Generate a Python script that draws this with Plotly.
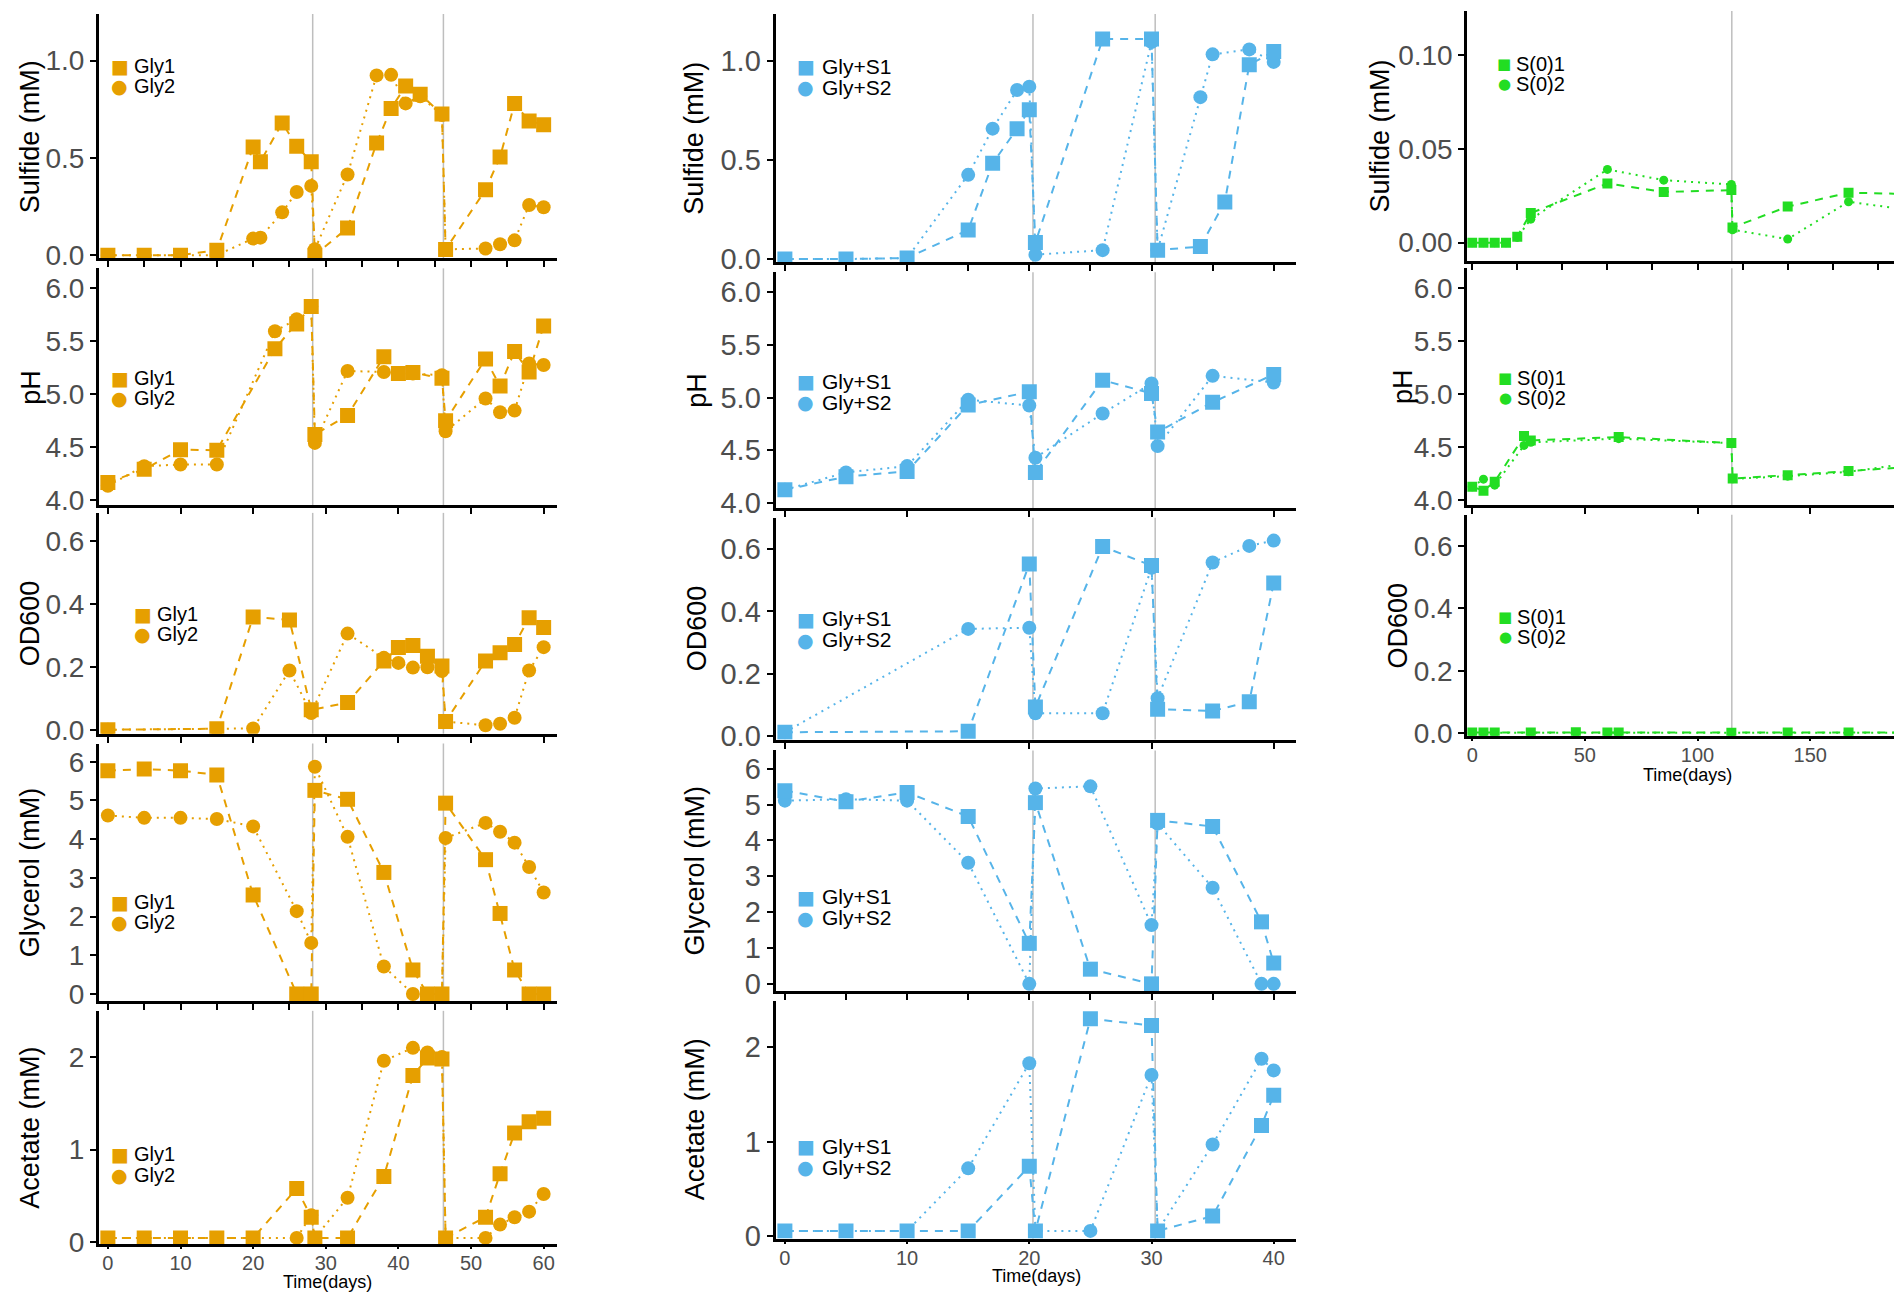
import plotly.graph_objects as go

W, H = 1902, 1296
ORANGE = "#E69F00"
BLUE = "#56B4E9"
GREEN = "#22DD22"
VLINE = "#BEBEBE"
TICKC = "#4D4D4D"
FONT = "Liberation Sans, Arial, sans-serif"

# ---------------- Column 1: glycerol only (Gly1 / Gly2) ----------------
gly_sulf_t = [0, 5, 10, 15, 20, 21, 24, 26, 28, 28.5, 33, 37, 39, 41, 43, 46, 46.5, 52, 54, 56, 58, 60]
gly1_sulf = [0, 0, 0, 0.025, 0.556, 0.48, 0.68, 0.56, 0.48, 0.0, 0.14, 0.576, 0.754, 0.87, 0.827, 0.725, 0.029, 0.336, 0.505, 0.78, 0.69, 0.67]
gly2_sulf = [0, 0, 0, 0, 0.085, 0.09, 0.22, 0.325, 0.356, 0.03, 0.415, 0.924, 0.927, 0.78, 0.817, 0.72, 0.03, 0.034, 0.056, 0.076, 0.258, 0.246]

gly_ph_t = [0, 5, 10, 15, 23, 26, 28, 28.5, 33, 38, 40, 42, 46, 46.5, 52, 54, 56, 58, 60]
gly1_ph = [4.166, 4.29, 4.476, 4.47, 5.43, 5.665, 5.83, 4.62, 4.80, 5.355, 5.195, 5.205, 5.15, 4.75, 5.333, 5.077, 5.405, 5.21, 5.646]
gly2_ph = [4.135, 4.32, 4.335, 4.335, 5.596, 5.71, 5.83, 4.54, 5.22, 5.21, 5.195, 5.195, 5.18, 4.65, 4.96, 4.83, 4.845, 5.29, 5.277]

gly_od_t = [0, 15, 20, 25, 28, 33, 38, 40, 42, 44, 46, 46.5, 52, 54, 56, 58, 60]
gly1_od = [0.002, 0.005, 0.36, 0.35, 0.065, 0.088, 0.22, 0.263, 0.269, 0.235, 0.204, 0.028, 0.22, 0.246, 0.272, 0.357, 0.326]
gly2_od = [0.002, 0.004, 0.006, 0.19, 0.055, 0.307, 0.23, 0.214, 0.199, 0.20, 0.188, 0.028, 0.016, 0.021, 0.04, 0.19, 0.264]

gly_glyc_t = [0, 5, 10, 15, 20, 26, 28, 28.5, 33, 38, 42, 44, 46, 46.5, 52, 54, 56, 58, 60]
gly1_glyc = [5.77, 5.81, 5.77, 5.66, 2.56, 0, 0, 5.26, 5.03, 3.14, 0.62, 0, 0, 4.93, 3.47, 2.08, 0.62, 0, 0]
gly2_glyc = [4.61, 4.55, 4.55, 4.52, 4.33, 2.14, 1.32, 5.87, 4.06, 0.71, 0, 0, 0, 4.03, 4.42, 4.19, 3.91, 3.28, 2.62]

gly_acet_t = [0, 5, 10, 15, 20, 26, 28, 28.5, 33, 38, 42, 44, 46, 46.5, 52, 54, 56, 58, 60]
gly1_acet = [0.046, 0.046, 0.046, 0.046, 0.046, 0.58, 0.27, 0.046, 0.046, 0.71, 1.80, 1.99, 1.98, 0.046, 0.27, 0.74, 1.18, 1.30, 1.34]
gly2_acet = [0.046, 0.046, 0.046, 0.046, 0.046, 0.046, 0.29, 0.046, 0.48, 1.96, 2.10, 2.05, 2.00, 0.046, 0.046, 0.19, 0.27, 0.33, 0.52]

gly_events = [28.2, 46.2]

# ---------------- Column 2: glycerol + sulfate (Gly+S1 / Gly+S2) ----------------
gs1_sulf_t = [0, 5, 10, 15, 17, 19, 20, 20.5, 26, 30, 30.5, 34, 36, 38, 40]
gs1_sulf = [0, 0, 0.005, 0.147, 0.483, 0.658, 0.753, 0.083, 1.11, 1.11, 0.045, 0.063, 0.288, 0.98, 1.048]
gs2_sulf_t = [0, 5, 10, 15, 17, 19, 20, 20.5, 26, 30, 30.5, 34, 35, 38, 40]
gs2_sulf = [0, 0, 0.005, 0.425, 0.658, 0.853, 0.87, 0.022, 0.045, 1.095, 0.045, 0.817, 1.033, 1.058, 0.995]

gs_ph_t = [0, 5, 10, 15, 20, 20.5, 26, 30, 30.5, 35, 40]
gs1_ph = [4.125, 4.25, 4.30, 4.93, 5.056, 4.29, 5.166, 5.04, 4.674, 4.956, 5.22]
gs2_ph = [4.125, 4.29, 4.35, 4.98, 4.925, 4.43, 4.85, 5.135, 4.54, 5.207, 5.144]

gs_od_t = [0, 15, 20, 20.5, 26, 30, 30.5, 35, 38, 40]
gs1_od = [0.013, 0.016, 0.552, 0.094, 0.608, 0.547, 0.087, 0.081, 0.111, 0.491]
gs2_od = [0.013, 0.344, 0.348, 0.074, 0.074, 0.54, 0.122, 0.557, 0.61, 0.627]

gs_glyc_t = [0, 5, 10, 15, 20, 20.5, 25, 30, 30.5, 35, 39, 40]
gs1_glyc = [5.39, 5.08, 5.34, 4.67, 1.13, 5.055, 0.41, 0, 4.56, 4.39, 1.73, 0.58]
gs2_glyc = [5.11, 5.15, 5.11, 3.38, 0, 5.45, 5.51, 1.64, 4.47, 2.68, 0, 0]

gs_acet_t = [0, 5, 10, 15, 20, 20.5, 25, 30, 30.5, 35, 39, 40]
gs1_acet = [0.053, 0.053, 0.053, 0.053, 0.737, 0.053, 2.30, 2.23, 0.053, 0.21, 1.17, 1.49]
gs2_acet = [0.053, 0.053, 0.053, 0.716, 1.83, 0.053, 0.053, 1.705, 0.053, 0.968, 1.877, 1.754]

gs_events = [20.3, 30.3]

# ---------------- Column 3: elemental sulfur (S(0)1 / S(0)2) ----------------
s0_sulf_t = [0, 5, 10, 15, 20, 26, 60, 85, 115, 115.5, 140, 167, 190]
s01_sulf = [0, 0, 0, 0, 0.0032, 0.0158, 0.0315, 0.027, 0.028, 0.0081, 0.0192, 0.0266, 0.026]
s02_sulf = [0, 0, 0, 0, 0.0028, 0.0125, 0.039, 0.0333, 0.031, 0.0069, 0.0019, 0.0218, 0.018]

s0_ph_t = [0, 5, 10, 23, 26, 65, 115, 115.6, 140, 167, 190]
s01_ph = [4.125, 4.088, 4.172, 4.604, 4.563, 4.595, 4.538, 4.203, 4.235, 4.275, 4.307]
s02_ph = [4.125, 4.197, 4.14, 4.516, 4.545, 4.58, 4.538, 4.20, 4.225, 4.266, 4.335]

s0_od_t = [0, 5, 10, 26, 46, 60, 65, 115, 140, 167, 190]
s01_od = [0.002, 0.002, 0.002, 0.002, 0.003, 0.002, 0.002, 0.001, 0.002, 0.002, 0.002]
s02_od = [0.001, 0.001, 0.001, 0.001, 0.002, 0.001, 0.001, 0.001, 0.001, 0.001, 0.001]

s0_events = [115.2]

# ---------------- labels ----------------
gly_names = ["Gly1", "Gly2"]
gs_names = ["Gly+S1", "Gly+S2"]
s0_names = ["S(0)1", "S(0)2"]

sulf_ticks = [0, 0.5, 1.0]
sulf_ticktext = ["0.0", "0.5", "1.0"]
s0_sulf_ticks = [0, 0.05, 0.10]
s0_sulf_ticktext = ["0.00", "0.05", "0.10"]
ph_ticks = [4.0, 4.5, 5.0, 5.5, 6.0]
ph_ticktext = ["4.0", "4.5", "5.0", "5.5", "6.0"]
od_ticks = [0, 0.2, 0.4, 0.6]
od_ticktext = ["0.0", "0.2", "0.4", "0.6"]
glyc_ticks = [0, 1, 2, 3, 4, 5, 6]
glyc_ticktext = ["0", "1", "2", "3", "4", "5", "6"]
acet_ticks = [0, 1, 2]
acet_ticktext = ["0", "1", "2"]

x_title = "Time(days)"

BIG = (15, 14)
SMALL = (10, 9)
# per column text sizes: (y tick labels, legend text)
C1 = dict(ytf=28, lf=20)
C2 = dict(ytf=29, lf=21)
C3 = dict(ytf=28, lf=20)

panels = [
    # column 1
    dict(box=(90, 548, 6, 253), xr=(-1.23, 61.8), yr=(-0.017, 1.24), dx=5, xlab=False,
         yt=(sulf_ticks, sulf_ticktext), title="Sulfide (mM)", tx=21,
         t=(gly_sulf_t, gly_sulf_t), ys=(gly1_sulf, gly2_sulf), names=gly_names, color=ORANGE,
         ev=gly_events, leg=(110.7, 59, 79, 123), ms=BIG, **C1),
    dict(box=(90, 548, 263, 502), xr=(-1.23, 61.8), yr=(3.953, 6.19), dx=10, xlab=False,
         yt=(ph_ticks, ph_ticktext), title="pH", tx=22,
         t=(gly_ph_t, gly_ph_t), ys=(gly1_ph, gly2_ph), names=gly_names, color=ORANGE,
         ev=gly_events, leg=(110.7, 374, 394, 123), ms=BIG, **C1),
    dict(box=(90, 548, 510, 733), xr=(-1.23, 61.8), yr=(-0.0105, 0.69), dx=10, xlab=False,
         yt=(od_ticks, od_ticktext), title="OD600", tx=21,
         t=(gly_od_t, gly_od_t), ys=(gly1_od, gly2_od), names=gly_names, color=ORANGE,
         ev=gly_events, leg=(134, 612, 632, 146), ms=BIG, **C1),
    dict(box=(90, 548, 743, 1003), xr=(-1.23, 61.8), yr=(-0.18, 6.47), dx=5, xlab=False,
         yt=(glyc_ticks, glyc_ticktext), title="Glycerol (mM)", tx=21,
         t=(gly_glyc_t, gly_glyc_t), ys=(gly1_glyc, gly2_glyc), names=gly_names, color=ORANGE,
         ev=gly_events, leg=(110.7, 903, 923, 123), ms=BIG, **C1),
    dict(box=(90, 548, 1013, 1249), xr=(-1.23, 61.8), yr=(-0.025, 2.50), dx=10, xlab=True,
         yt=(acet_ticks, acet_ticktext), title="Acetate (mM)", tx=21,
         t=(gly_acet_t, gly_acet_t), ys=(gly1_acet, gly2_acet), names=gly_names, color=ORANGE,
         ev=gly_events, leg=(110.7, 1158, 1179, 123), ms=BIG, xt=(319, 1287), **C1),
    # column 2
    dict(box=(767, 1288, 6, 257), xr=(-0.76, 41.85), yr=(-0.017, 1.237), dx=5, xlab=False,
         yt=(sulf_ticks, sulf_ticktext), title="Sulfide (mM)", tx=686,
         t=(gs1_sulf_t, gs2_sulf_t), ys=(gs1_sulf, gs2_sulf), names=gs_names, color=BLUE,
         ev=gs_events, leg=(797, 59, 80, 811), ms=BIG, **C2),
    dict(box=(767, 1288, 267, 505), xr=(-0.76, 41.85), yr=(3.953, 6.19), dx=10, xlab=False,
         yt=(ph_ticks, ph_ticktext), title="pH", tx=688,
         t=(gs_ph_t, gs_ph_t), ys=(gs1_ph, gs2_ph), names=gs_names, color=BLUE,
         ev=gs_events, leg=(797, 377, 398, 811), ms=BIG, **C2),
    dict(box=(767, 1288, 515, 739), xr=(-0.76, 41.85), yr=(-0.0106, 0.70), dx=10, xlab=False,
         yt=(od_ticks, od_ticktext), title="OD600", tx=688,
         t=(gs_od_t, gs_od_t), ys=(gs1_od, gs2_od), names=gs_names, color=BLUE,
         ev=gs_events, leg=(797, 617, 638, 811), ms=BIG, **C2),
    dict(box=(767, 1288, 750, 993), xr=(-0.76, 41.85), yr=(-0.2, 6.51), dx=5, xlab=False,
         yt=(glyc_ticks, glyc_ticktext), title="Glycerol (mM)", tx=686,
         t=(gs_glyc_t, gs_glyc_t), ys=(gs1_glyc, gs2_glyc), names=gs_names, color=BLUE,
         ev=gs_events, leg=(797, 898, 919, 811), ms=BIG, **C2),
    dict(box=(767, 1288, 1003, 1243), xr=(-0.76, 41.85), yr=(-0.028, 2.49), dx=10, xlab=True,
         yt=(acet_ticks, acet_ticktext), title="Acetate (mM)", tx=686,
         t=(gs_acet_t, gs_acet_t), ys=(gs1_acet, gs2_acet), names=gs_names, color=BLUE,
         ev=gs_events, leg=(797, 1150, 1171, 811), ms=BIG, xt=(1028, 1281), **C2),
    # column 3
    dict(box=(1459, 1898, 3, 256), xr=(-2.2, 192.5), yr=(-0.010, 0.1234), dx=20, xlab=False,
         yt=(s0_sulf_ticks, s0_sulf_ticktext), title="Sulfide (mM)", tx=1372,
         t=(s0_sulf_t, s0_sulf_t), ys=(s01_sulf, s02_sulf), names=s0_names, color=GREEN,
         ev=s0_events, leg=(1496, 57, 77, 1506), ms=SMALL, **C3),
    dict(box=(1459, 1898, 263, 502), xr=(-2.2, 192.5), yr=(3.953, 6.19), dx=50, xlab=False,
         yt=(ph_ticks, ph_ticktext), title="pH", tx=1394,
         t=(s0_ph_t, s0_ph_t), ys=(s01_ph, s02_ph), names=s0_names, color=GREEN,
         ev=s0_events, leg=(1497, 374, 394, 1507), ms=SMALL, **C3),
    dict(box=(1459, 1898, 512, 735), xr=(-2.2, 192.5), yr=(-0.008, 0.70), dx=50, xlab=True,
         yt=(od_ticks, od_ticktext), title="OD600", tx=1390,
         t=(s0_od_t, s0_od_t), ys=(s01_od, s02_od), names=s0_names, color=GREEN,
         ev=s0_events, leg=(1497, 615, 635, 1507), ms=SMALL, xt=(1679, 775), **C3),
]

fig = go.Figure()
layout = dict(width=W, height=H, margin=dict(l=0, r=0, t=0, b=0),
              paper_bgcolor="white", plot_bgcolor="white", showlegend=False,
              font=dict(family=FONT, color="black"))
annotations = []
shapes = []


def px(xp):
    return xp / W


def py(yp):
    return 1 - yp / H


for i, p in enumerate(panels, start=1):
    xa = "x" if i == 1 else f"x{i}"
    ya = "y" if i == 1 else f"y{i}"
    xkey = "xaxis" if i == 1 else f"xaxis{i}"
    ykey = "yaxis" if i == 1 else f"yaxis{i}"
    x0, x1, ytop, ybot = p["box"]
    layout[xkey] = dict(
        domain=[px(x0), px(x1)], range=list(p["xr"]), anchor=ya,
        showline=True, linecolor="black", linewidth=3,
        ticks="outside", ticklen=2 if p["xlab"] else 6, tickwidth=2, tickcolor="black",
        tick0=0, dtick=p["dx"], showgrid=False, zeroline=False,
        showticklabels=p["xlab"], ticklabelstandoff=-3,
        tickfont=dict(size=20, color=TICKC, family=FONT),
    )
    layout[ykey] = dict(
        domain=[py(ybot), py(ytop)], range=list(p["yr"]), anchor=xa,
        showline=True, linecolor="black", linewidth=3,
        ticks="outside", ticklen=6, tickwidth=2, tickcolor="black",
        tickvals=p["yt"][0], ticktext=p["yt"][1], showgrid=False, zeroline=False,
        tickfont=dict(size=p["ytf"], color=TICKC, family=FONT),
    )
    # event lines (medium exchange)
    for e in p["ev"]:
        shapes.append(dict(type="line", xref=xa, yref=f"{ya} domain", x0=e, x1=e, y0=0, y1=1,
                           line=dict(color=VLINE, width=1.5), layer="below"))
    # data series
    styles = [("square", "8px,7px", p["ms"][0]), ("circle", "2px,5px", p["ms"][1])]
    for k in (1, 0):  # circles first, squares on top
        sym, dash, ms = styles[k]
        fig.add_trace(go.Scatter(
            x=p["t"][k], y=p["ys"][k], xaxis=xa, yaxis=ya, name=p["names"][k],
            mode="lines+markers", line=dict(color=p["color"], width=2, dash=dash),
            marker=dict(symbol=sym, size=ms, color=p["color"]), showlegend=False,
        ))
    # y axis title
    annotations.append(dict(text=p["title"], x=px(p["tx"]), y=py((ytop + ybot) / 2),
                            xref="paper", yref="paper", showarrow=False, textangle=-90,
                            xanchor="center", yanchor="middle",
                            font=dict(size=27, color="black", family=FONT)))
    # x axis title
    if "xt" in p:
        annotations.append(dict(text=x_title, x=px(p["xt"][0]), y=py(p["xt"][1]),
                                xref="paper", yref="paper", showarrow=False,
                                xanchor="center", yanchor="middle",
                                font=dict(size=18, color="black", family=FONT)))
    # legend keys
    mx, sqy, ciy, tx = p["leg"]
    gsize = 19 if p["ms"][0] > 10 else 15
    for glyph, gy, name in (("\u25A0", sqy, p["names"][0]), ("\u25CF", ciy, p["names"][1])):
        annotations.append(dict(text=glyph, x=px(mx), y=py(gy), xref="paper", yref="paper",
                                showarrow=False, xanchor="center", yanchor="middle",
                                font=dict(size=gsize, color=p["color"], family="DejaVu Sans")))
        annotations.append(dict(text=name, x=px(tx), y=py(gy), xref="paper", yref="paper",
                                showarrow=False, xanchor="left", yanchor="middle",
                                font=dict(size=p["lf"], color="black", family=FONT)))

layout["annotations"] = annotations
layout["shapes"] = shapes
fig.update_layout(**layout)
fig.write_html("out.html")
